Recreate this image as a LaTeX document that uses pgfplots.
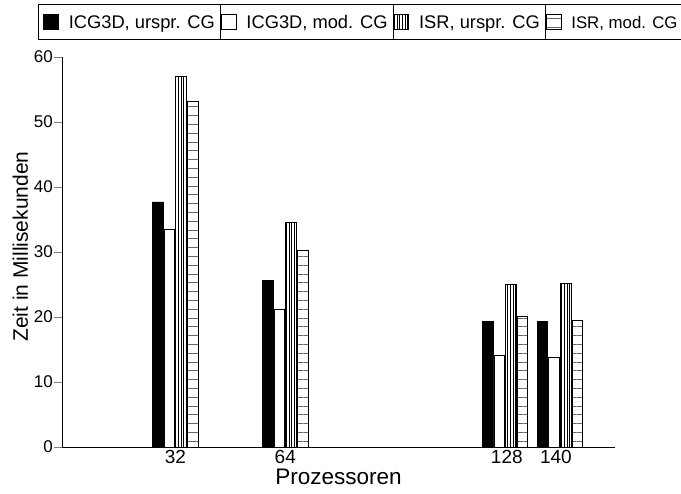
\documentclass[border=0pt]{standalone}
\usepackage{pgfplots}
\pgfplotsset{compat=1.18}
\usepackage{pgfplotstable}
\usepackage{fontspec}
\setmainfont{Liberation Sans}
\usetikzlibrary{patterns.meta}

% Zeit in ms; Gruppe 140 steht bei x=144 (Achse ist dort gestaucht)
\pgfplotstableread{
x   icgu  icgm  isru  isrm
32  37.7  33.4  57.0  53.1
64  25.6  21.1  34.5  30.2
128 19.3  14.1  25.0  20.1
144 19.3  13.8  25.2  19.5
}\zeiten

\newcommand{\sep}{\hspace{5pt}\rule[-10.5pt]{0.8pt}{35pt}\hspace{5pt}}
\pgfplotsset{sq legend/.style={legend image code/.code={%
  \draw[##1, line width=0.8pt] (0pt,-1pt) rectangle (15pt,14pt);}}}

\begin{document}
\begin{tikzpicture}
\useasboundingbox (0,0) rectangle (681pt,494pt);
\begin{axis}[
  at={(62pt,47pt)}, anchor=south west,
  scale only axis, width=553pt, height=390pt,
  xmin=-1, xmax=160, ymin=0, ymax=60,
  axis x line*=bottom, axis y line*=left,
  axis line style={line width=0.8pt},
  ybar=1pt, bar width=3.1,
  xtick={32,64,128.5,142.8}, xticklabels={32,64,128,140},
  xtick style={draw=none},
  ytick={0,10,...,60},
  tick align=outside, major tick length=8pt,
  ytick style={line width=0.8pt},
  /pgf/number format/assume math mode=true,
  xticklabel style={font=\fontsize{19}{19}\selectfont, inner sep=1pt, yshift=5.5pt},
  yticklabel style={font=\fontsize{17}{17}\selectfont, inner sep=1pt},
  xlabel={Prozessoren}, ylabel={Zeit in Millisekunden},
  xlabel style={font=\fontsize{22.5}{22.5}\selectfont, at={(axis description cs:0.5,0)}, anchor=base, yshift=-38pt},
  ylabel style={font=\fontsize{21}{21}\selectfont, at={(axis description cs:-0.0615,0.514)}, anchor=base},
  legend columns=4,
  legend style={at={(rel axis cs:-0.0434,1.1359)}, anchor=north west,
    draw=black, line width=0.8pt, inner xsep=5pt, inner ysep=0pt, outer sep=0pt,
    font=\fontsize{18.3}{18.3}\selectfont,
    cells={anchor=base west},
    /tikz/every odd column/.style={column sep=10pt},
    /tikz/every even column/.style={column sep=0pt},
    nodes={inner sep=0pt, text depth=}},
]
\addplot[fill=black, draw=black, line width=0.8pt, sq legend] table[x=x, y=icgu] {\zeiten};
\addlegendentry{ICG3D, urspr. CG\sep}
\addplot[fill=white, draw=black, line width=0.8pt, sq legend] table[x=x, y=icgm] {\zeiten};
\addlegendentry{ICG3D, mod. CG\sep}
\addplot[pattern={Lines[angle=90, distance=2.7pt, line width=0.5pt]}, draw=black, line width=0.8pt, sq legend] table[x=x, y=isru] {\zeiten};
\addlegendentry{ISR, urspr. CG\sep}
\addplot[pattern={Lines[angle=0, distance=8.8pt, line width=0.6pt]}, pattern color=black!60, draw=black, line width=0.8pt, sq legend] table[x=x, y=isrm] {\zeiten};
\addlegendentry{\fontsize{16.8}{16.8}\selectfont ISR, mod. CG\hspace{40pt}}
\end{axis}
\end{tikzpicture}
\end{document}
